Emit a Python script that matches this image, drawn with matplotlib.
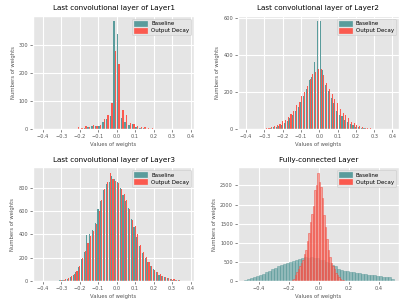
import numpy as np
import matplotlib
matplotlib.use("Agg")
import matplotlib.pyplot as plt
from matplotlib.patches import Patch

plt.style.use("ggplot")

TEAL = "#5a9c9c"
RED = "#fb5a4f"

# Layer1: bins of 0.02 from -0.40 to 0.40
l1_edges = np.linspace(-0.40, 0.40, 41)
l1_base = [0, 0, 1, 1, 1, 2, 1, 1, 2, 3, 3, 5, 8, 12, 13, 14, 27, 37, 48, 385,
           340, 40, 28, 15, 20, 10, 5, 5, 3, 2, 2, 1, 1, 1, 1, 1, 1, 2, 1, 0]
l1_decay = [1, 0, 1, 2, 2, 3, 3, 2, 3, 7, 6, 12, 8, 17, 14, 15, 38, 52, 93, 278,
            235, 70, 52, 22, 18, 12, 8, 7, 6, 4, 3, 3, 2, 2, 1, 1, 1, 1, 1, 0]

# Layer2: bins of 0.015 from -0.375 to 0.375
l2_edges = np.linspace(-0.375, 0.375, 51)
l2_base = [1, 1, 2, 2, 3, 4, 5, 8, 12, 15, 20, 25, 32, 45, 60, 78, 100, 120, 150, 180,
           215, 265, 280, 360, 580, 580, 320, 240, 205, 170, 140, 100, 75, 70, 50, 40, 30, 22, 15, 12,
           8, 6, 5, 4, 3, 2, 2, 1, 1, 1]
l2_decay = [2, 2, 3, 4, 5, 7, 10, 15, 18, 22, 30, 45, 52, 65, 85, 100, 130, 150, 180, 200,
            235, 270, 300, 310, 325, 325, 290, 250, 215, 190, 165, 140, 110, 90, 75, 60, 40, 35, 25, 20,
            15, 10, 8, 6, 5, 4, 3, 3, 5, 2]

# Layer3: bins of 0.015 from -0.375 to 0.375
l3_edges = np.linspace(-0.375, 0.375, 51)
l3_base = [0, 1, 2, 3, 5, 8, 12, 20, 35, 55, 80, 120, 190, 245, 395, 400, 440, 500, 620, 690,
           780, 830, 850, 905, 880, 850, 800, 740, 690, 630, 530, 460, 380, 300, 240, 200, 160, 125, 100, 75,
           55, 45, 35, 25, 18, 12, 8, 4, 2, 1]
l3_decay = [0, 1, 2, 3, 6, 9, 14, 22, 38, 58, 85, 125, 200, 255, 330, 390, 430, 490, 600, 700,
            790, 850, 930, 880, 860, 840, 790, 750, 700, 620, 520, 470, 400, 310, 250, 210, 165, 130, 95, 80,
            60, 45, 35, 28, 20, 14, 10, 5, 3, 2]

# Fully-connected: baseline bins of 0.02 over [-0.5, 0.5], decay bins of 0.01 over [-0.18, 0.17]
fc_base_edges = np.linspace(-0.5, 0.5, 51)
fc_base = [35, 55, 80, 110, 135, 160, 190, 220, 260, 300, 340, 380, 420, 455, 480, 500, 520, 540, 570, 600,
           620, 610, 620, 600, 590, 560, 540, 500, 460, 420, 380, 320, 290, 270, 255, 240, 225, 215, 205, 190,
           175, 165, 155, 145, 135, 125, 115, 100, 90, 60]
fc_decay_edges = np.linspace(-0.18, 0.17, 36)
fc_decay = [20, 40, 165, 230, 300, 390, 470, 560, 700, 800, 1050, 1250, 1540, 1750, 1950, 2370, 2500, 2830,
            2600, 2450, 2180, 1720, 1400, 1100, 800, 620, 470, 380, 300, 200, 150, 95, 60, 35, 20]

titles = ["Last convolutional layer of Layer1", "Last convolutional layer of Layer2",
          "Last convolutional layer of Layer3", "Fully-connected Layer"]


def paired(ax, edges, base, decay):
    w = edges[1] - edges[0]
    c = (edges[:-1] + edges[1:]) / 2
    ax.bar(c - 0.2 * w, base, width=0.4 * w, color=TEAL, linewidth=0)
    ax.bar(c + 0.2 * w, decay, width=0.4 * w, color=RED, linewidth=0)


fig, axes = plt.subplots(2, 2, figsize=(4.11, 3.08), dpi=100)
fig.subplots_adjust(left=0.080, right=0.971, top=0.948, bottom=0.088, wspace=0.27, hspace=0.335)

paired(axes[0, 0], l1_edges, l1_base, l1_decay)
paired(axes[0, 1], l2_edges, l2_base, l2_decay)
paired(axes[1, 0], l3_edges, l3_base, l3_decay)

ax = axes[1, 1]
bw = fc_base_edges[1] - fc_base_edges[0]
ax.bar(fc_base_edges[:-1], fc_base, width=bw, align="edge", color=TEAL, alpha=0.6,
       edgecolor="#3f8a8a", linewidth=0.4)
dw = fc_decay_edges[1] - fc_decay_edges[0]
ax.bar(fc_decay_edges[:-1], fc_decay, width=dw, align="edge", color="#f78a82", alpha=0.75,
       edgecolor="#f03c30", linewidth=0.4)

axes[0, 0].set_xlim(-0.453, 0.42)
axes[0, 1].set_xlim(-0.445, 0.436)
axes[1, 0].set_xlim(-0.453, 0.42)
axes[1, 1].set_xlim(-0.54, 0.537)
axes[0, 0].set_yticks([0, 100, 200, 300])
axes[0, 1].set_yticks([0, 200, 400, 600])
axes[1, 0].set_yticks([0, 200, 400, 600, 800])
axes[1, 1].set_yticks([0, 500, 1000, 1500, 2000, 2500])

handles = [Patch(color=TEAL, label="Baseline"), Patch(color=RED, label="Output Decay")]
for ax, t in zip(axes.flat, titles):
    ax.set_title(t, fontsize=5.2, pad=4)
    ax.set_xlabel("Values of weights", fontsize=3.8, labelpad=2, color="#555555")
    ax.set_ylabel("Numbers of weights", fontsize=3.8, labelpad=2, color="#555555")
    ax.tick_params(labelsize=3.6, length=2, width=0.5, pad=1.5, colors="#555555")
    ax.grid(True, color="white", linewidth=0.8)
    ax.set_ylim(bottom=0)
    ax.legend(handles=handles, loc="upper right", fontsize=4, handlelength=2.2, handleheight=0.9,
              borderpad=0.4, labelspacing=0.3, framealpha=0.85)

plt.savefig("out.png", dpi=100, facecolor="white")
